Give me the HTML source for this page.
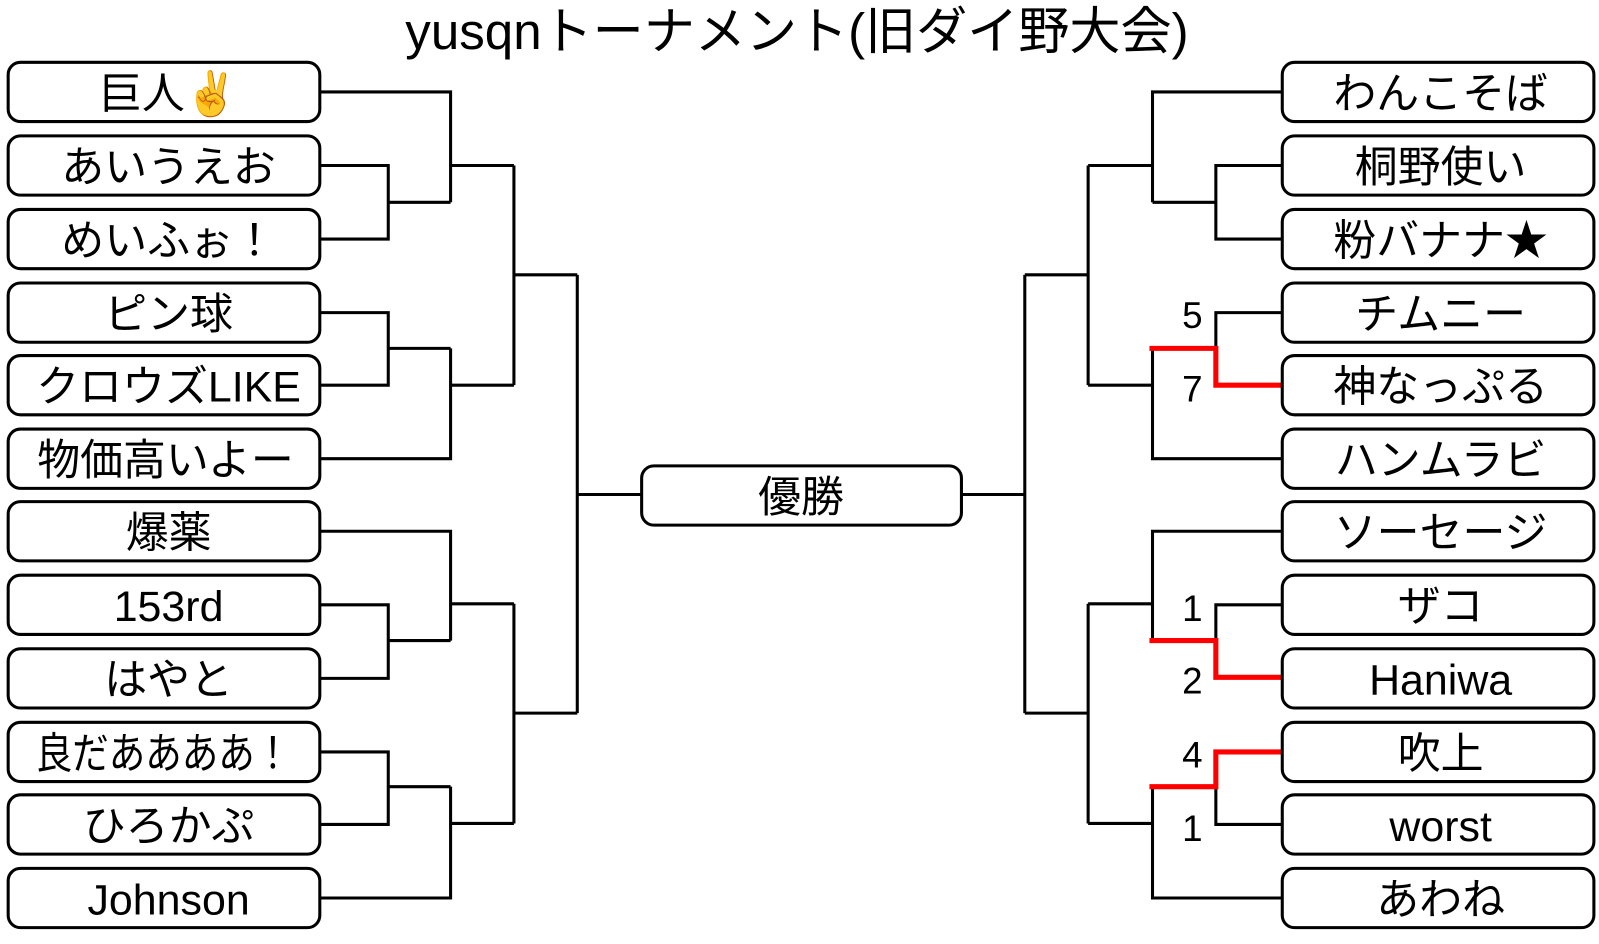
<!DOCTYPE html>
<html><head><meta charset="utf-8"><style>
html,body{margin:0;padding:0;background:#fff;}
svg{display:block;}
text{font-family:"Liberation Sans","Noto Sans CJK JP",sans-serif;fill:#000;}
</style></head><body>
<svg width="1599" height="944" viewBox="0 0 1565 924" preserveAspectRatio="none" xmlns="http://www.w3.org/2000/svg">
<text x="780" y="48" font-size="50" text-anchor="middle">yusqnトーナメント(旧ダイ野大会)</text>
<g fill="none" stroke="#000" stroke-width="3">
<path d="M313 90H441V198M313 162H380V234H313M380 198H441M441 162H503"/>
<path d="M313 306H380V377H313M380 341H441M313 449H441V341M441 377H503"/>
<path d="M503 162V377M503 269H565"/>
<path d="M313 520H441V627M313 592H380V664H313M380 627H441M441 591H503"/>
<path d="M313 736H380V807H313M380 770H441M313 879H441V770M441 806H503"/>
<path d="M503 591V806M503 698H565M565 269V698M565 484H628"/>
<path d="M1255 90H1128V198M1255 162H1190V234H1255M1190 198H1128M1128 162H1065"/>
<path d="M1255 306H1190V341M1128 341V449H1255M1128 377H1065"/>
<path d="M1065 162V377M1065 269H1003"/>
<path d="M1255 520H1128V627M1255 592H1190V627M1128 591H1065"/>
<path d="M1255 807H1190V770M1128 770V879H1255M1128 806H1065"/>
<path d="M1065 591V806M1065 698H1003M1003 269V698M1003 484H941"/>
</g>
<g fill="none" stroke="#f00" stroke-width="5">
<path d="M1125 341H1190V377H1255"/>
<path d="M1125 627H1190V663H1255"/>
<path d="M1125 770H1190V736H1255"/>
</g>
<g fill="#fff" stroke="#000" stroke-width="3">
<rect x="8" y="61" width="305" height="58" rx="12"/>
<rect x="8" y="133" width="305" height="58" rx="12"/>
<rect x="8" y="205" width="305" height="58" rx="12"/>
<rect x="8" y="277" width="305" height="58" rx="12"/>
<rect x="8" y="348" width="305" height="58" rx="12"/>
<rect x="8" y="420" width="305" height="58" rx="12"/>
<rect x="8" y="491" width="305" height="58" rx="12"/>
<rect x="8" y="563" width="305" height="58" rx="12"/>
<rect x="8" y="635" width="305" height="58" rx="12"/>
<rect x="8" y="707" width="305" height="58" rx="12"/>
<rect x="8" y="778" width="305" height="58" rx="12"/>
<rect x="8" y="850" width="305" height="58" rx="12"/>
<rect x="1255" y="61" width="305" height="58" rx="12"/>
<rect x="1255" y="133" width="305" height="58" rx="12"/>
<rect x="1255" y="205" width="305" height="58" rx="12"/>
<rect x="1255" y="277" width="305" height="58" rx="12"/>
<rect x="1255" y="348" width="305" height="58" rx="12"/>
<rect x="1255" y="420" width="305" height="58" rx="12"/>
<rect x="1255" y="491" width="305" height="58" rx="12"/>
<rect x="1255" y="563" width="305" height="58" rx="12"/>
<rect x="1255" y="635" width="305" height="58" rx="12"/>
<rect x="1255" y="707" width="305" height="58" rx="12"/>
<rect x="1255" y="778" width="305" height="58" rx="12"/>
<rect x="1255" y="850" width="305" height="58" rx="12"/>
<rect x="628" y="456" width="313" height="58" rx="12"/>
</g>
<g font-size="42" text-anchor="middle">
<text x="165" y="106">巨人✌</text>
<text x="165" y="178">あいうえお</text>
<text x="165" y="250">めいふぉ！</text>
<text x="165" y="322">ピン球</text>
<text x="165" y="393">クロウズLIKE</text>
<text x="162" y="465">物価高いよー</text>
<text x="165" y="536">爆薬</text>
<text x="165" y="608">153rd</text>
<text x="165" y="680">はやと</text>
<text x="160" y="752" textLength="250" lengthAdjust="spacingAndGlyphs">良だああああ！</text>
<text x="165" y="823">ひろかぷ</text>
<text x="165" y="895">Johnson</text>
<text x="1410" y="106">わんこそば</text>
<text x="1410" y="178">桐野使い</text>
<text x="1410" y="250">粉バナナ★</text>
<text x="1410" y="322">チムニー</text>
<text x="1410" y="393">神なっぷる</text>
<text x="1410" y="465">ハンムラビ</text>
<text x="1410" y="536">ソーセージ</text>
<text x="1410" y="608">ザコ</text>
<text x="1410" y="680">Haniwa</text>
<text x="1410" y="752">吹上</text>
<text x="1410" y="823">worst</text>
<text x="1410" y="895">あわね</text>
<text x="784" y="501">優勝</text>
</g>
<g font-size="36" text-anchor="middle">
<text x="1167" y="321">5</text>
<text x="1167" y="393">7</text>
<text x="1167" y="608">1</text>
<text x="1167" y="679">2</text>
<text x="1167" y="751">4</text>
<text x="1167" y="823">1</text>
</g>
</svg>
</body></html>
